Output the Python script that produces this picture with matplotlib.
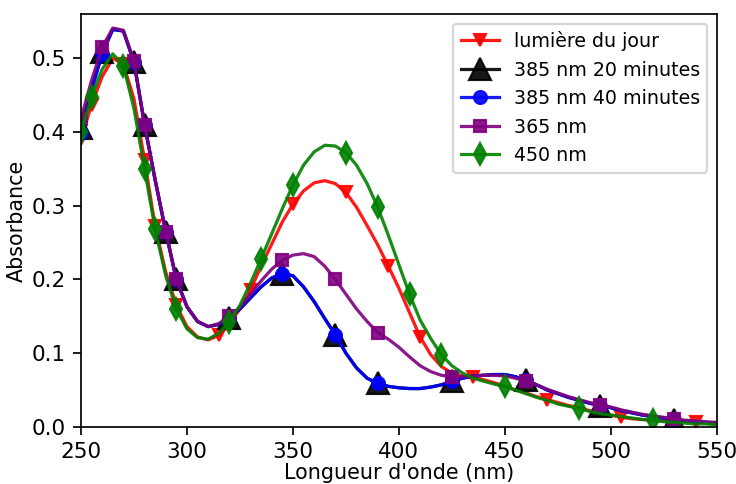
import numpy as np
import matplotlib
matplotlib.use('Agg')
import matplotlib.pyplot as plt

# wavelength grid, 5 nm steps
wavelength = np.arange(250, 551, 5)

daylight = [0.390, 0.437, 0.475, 0.500, 0.492, 0.445, 0.362, 0.272, 0.210, 0.165,
            0.136, 0.122, 0.118, 0.124, 0.140, 0.160, 0.186, 0.218, 0.248, 0.278,
            0.302, 0.320, 0.331, 0.334, 0.330, 0.318, 0.298, 0.273, 0.247, 0.218,
            0.188, 0.155, 0.122, 0.098, 0.082, 0.073, 0.069, 0.067, 0.064, 0.060,
            0.055, 0.050, 0.046, 0.041, 0.037, 0.033, 0.029, 0.026, 0.022, 0.019,
            0.016, 0.013, 0.011, 0.010, 0.009, 0.008, 0.008, 0.007, 0.007, 0.006,
            0.005]

uv385_20 = [0.405, 0.460, 0.508, 0.539, 0.537, 0.495, 0.410, 0.335, 0.265, 0.200,
            0.163, 0.143, 0.136, 0.139, 0.148, 0.160, 0.175, 0.190, 0.202, 0.208,
            0.205, 0.190, 0.170, 0.147, 0.125, 0.100, 0.080, 0.066, 0.059, 0.055,
            0.053, 0.052, 0.052, 0.054, 0.057, 0.062, 0.066, 0.069, 0.070, 0.071,
            0.071, 0.068, 0.063, 0.057, 0.050, 0.045, 0.040, 0.036, 0.032, 0.029,
            0.026, 0.022, 0.019, 0.016, 0.014, 0.012, 0.010, 0.008, 0.007, 0.006,
            0.005]

uv385_40 = [0.398, 0.455, 0.506, 0.539, 0.537, 0.495, 0.410, 0.335, 0.265, 0.200,
            0.163, 0.143, 0.136, 0.139, 0.148, 0.160, 0.175, 0.190, 0.202, 0.208,
            0.205, 0.190, 0.170, 0.147, 0.125, 0.100, 0.080, 0.066, 0.059, 0.055,
            0.053, 0.052, 0.052, 0.054, 0.057, 0.062, 0.066, 0.069, 0.070, 0.071,
            0.071, 0.068, 0.063, 0.057, 0.050, 0.045, 0.040, 0.036, 0.032, 0.029,
            0.026, 0.022, 0.019, 0.016, 0.014, 0.012, 0.010, 0.008, 0.007, 0.006,
            0.005]

uv365 = [0.418, 0.470, 0.515, 0.541, 0.538, 0.496, 0.410, 0.335, 0.265, 0.200,
         0.163, 0.143, 0.136, 0.140, 0.150, 0.162, 0.180, 0.198, 0.214, 0.226,
         0.233, 0.235, 0.231, 0.218, 0.200, 0.180, 0.160, 0.143, 0.128, 0.119,
         0.108, 0.095, 0.083, 0.075, 0.070, 0.068, 0.068, 0.069, 0.070, 0.070,
         0.069, 0.066, 0.062, 0.057, 0.051, 0.046, 0.041, 0.037, 0.033, 0.030,
         0.027, 0.023, 0.020, 0.017, 0.015, 0.013, 0.011, 0.009, 0.008, 0.007,
         0.006]

blue450 = [0.400, 0.447, 0.485, 0.506, 0.490, 0.432, 0.350, 0.268, 0.205, 0.160,
           0.133, 0.121, 0.119, 0.127, 0.142, 0.165, 0.195, 0.228, 0.262, 0.296,
           0.328, 0.355, 0.373, 0.382, 0.381, 0.372, 0.355, 0.330, 0.298, 0.260,
           0.220, 0.180, 0.145, 0.120, 0.098, 0.083, 0.073, 0.066, 0.062, 0.058,
           0.055, 0.050, 0.045, 0.040, 0.036, 0.031, 0.028, 0.025, 0.021, 0.018,
           0.016, 0.014, 0.012, 0.010, 0.009, 0.007, 0.006, 0.005, 0.004, 0.004,
           0.003]

labels = ['lumière du jour', '385 nm 20 minutes', '385 nm 40 minutes', '365 nm', '450 nm']

# indices on the grid where markers sit
marks_red = [0, 1, 4, 6, 7, 9, 13, 16, 20, 25, 29, 32, 37, 44, 51, 58]
marks_uv = [0, 2, 5, 6, 8, 9, 14, 19, 24, 28, 35, 42, 49, 56]
marks_green = [0, 1, 4, 6, 7, 9, 14, 17, 20, 25, 28, 31, 34, 40, 47, 54]

fig = plt.figure(figsize=(736 / 155, 484 / 155), dpi=155)
ax = fig.add_axes([0.110, 0.118, 0.864, 0.853])

ax.plot(wavelength, daylight, color='red', marker='v', markevery=marks_red, alpha=0.9, label=labels[0])
ax.plot(wavelength, uv385_20, color='black', marker='^', markersize=10, markevery=marks_uv, alpha=0.9, label=labels[1])
ax.plot(wavelength, uv385_40, color='blue', marker='o', markevery=marks_uv, alpha=0.9, label=labels[2])
ax.plot(wavelength, uv365, color='purple', marker='s', markevery=marks_uv, alpha=0.9, label=labels[3])
ax.plot(wavelength, blue450, color='green', marker='d', markersize=7, markevery=marks_green, alpha=0.9, label=labels[4])

ax.set_xlim(250, 550)
ax.set_ylim(0, 0.56)
ax.set_xlabel("Longueur d'onde (nm)", fontsize=9.6, labelpad=0.5)
ax.set_ylabel('Absorbance', fontsize=9.6, labelpad=2)
ax.legend(loc='upper right', fontsize=8.8)

fig.savefig('out.png', dpi=155)
